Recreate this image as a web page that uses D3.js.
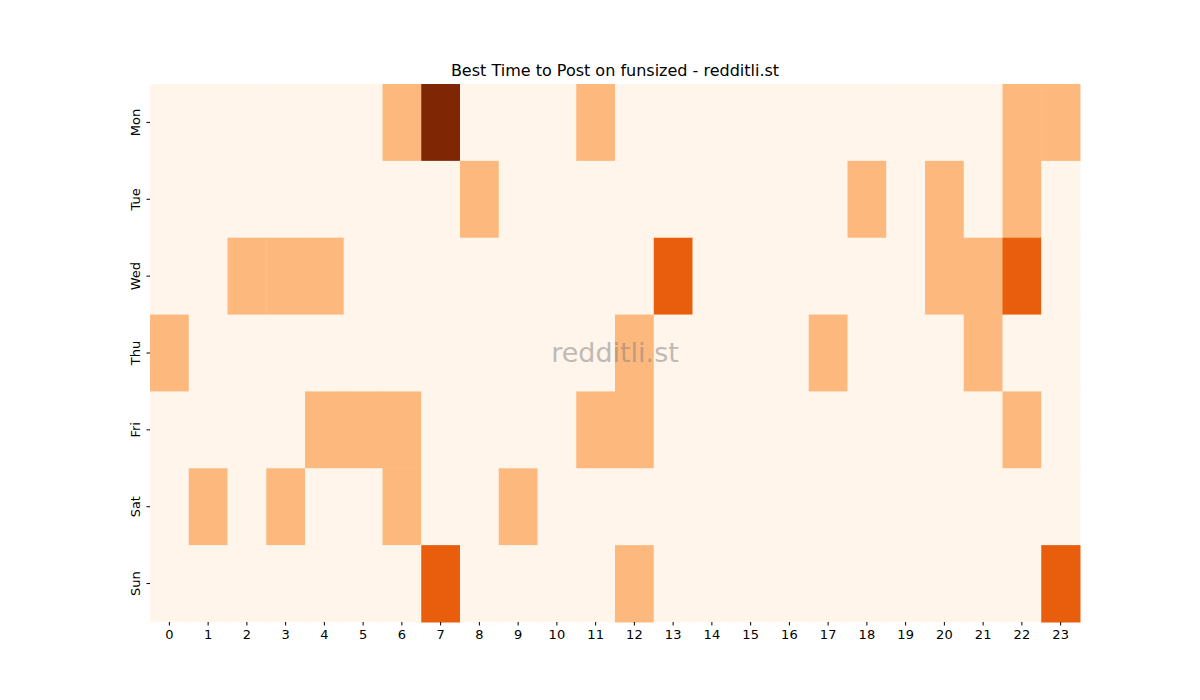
<!DOCTYPE html>
<html><head><meta charset="utf-8">
<script src="https://cdn.jsdelivr.net/npm/d3@7"></script>
<style>body{margin:0;background:#fff}svg{font-family:"DejaVu Sans",sans-serif}</style>
</head><body><svg id="c" width="1200" height="700"></svg>
<script>
const days = ["Mon","Tue","Wed","Thu","Fri","Sat","Sun"];
const hours = d3.range(24).map(String);
const mon = [0,0,0,0,0,0,1,3,0,0,0,1,0,0,0,0,0,0,0,0,0,0,1,1];
const tue = [0,0,0,0,0,0,0,0,1,0,0,0,0,0,0,0,0,0,1,0,1,0,1,0];
const wed = [0,0,1,1,1,0,0,0,0,0,0,0,0,2,0,0,0,0,0,0,1,1,2,0];
const thu = [1,0,0,0,0,0,0,0,0,0,0,0,1,0,0,0,0,1,0,0,0,1,0,0];
const fri = [0,0,0,0,1,1,1,0,0,0,0,1,1,0,0,0,0,0,0,0,0,0,1,0];
const sat = [0,1,0,1,0,0,1,0,0,1,0,0,0,0,0,0,0,0,0,0,0,0,0,0];
const sun = [0,0,0,0,0,0,0,2,0,0,0,0,1,0,0,0,0,0,0,0,0,0,0,2];
const rows = [mon,tue,wed,thu,fri,sat,sun];
const levelColors = ["#fff5eb","#fdb97d","#e95e0d","#7f2704"];

const svg = d3.select("#c");
const L=150,R=1080,T=84,B=622;
const x = d3.scaleBand().domain(hours).range([L,R]);
const y = d3.scaleBand().domain(days).range([T,B]);
const color = d3.scaleOrdinal().domain([0,1,2,3]).range(levelColors);
const cells = [];
rows.forEach((r,i)=>r.forEach((v,j)=>cells.push({d:days[i],h:hours[j],v})));
svg.append("g").selectAll("rect").data(cells).join("rect")
  .attr("x",d=>x(d.h)).attr("y",d=>y(d.d))
  .attr("width",x.bandwidth()+0.5).attr("height",y.bandwidth()+0.5)
  .attr("fill",d=>color(d.v));
const ax = svg.append("g").attr("transform",`translate(0,${B})`).call(d3.axisBottom(x).tickSizeOuter(0).tickSize(3.5).tickPadding(4));
const ay = svg.append("g").attr("transform",`translate(${L},0)`).call(d3.axisLeft(y).tickSizeOuter(0).tickSize(3.5).tickPadding(4));
[ax,ay].forEach(a=>{a.select(".domain").remove();a.selectAll("text").attr("font-size",13).attr("fill","#000").attr("font-family","DejaVu Sans");});
ay.selectAll(".tick text").attr("transform","rotate(-90)").attr("text-anchor","middle").attr("x",0).attr("y",-10).attr("dy","0");
svg.append("text").attr("x",615).attr("y",76).attr("text-anchor","middle").attr("font-size",16).text("Best Time to Post on funsized - redditli.st");
svg.append("text").attr("x",615).attr("y",362).attr("text-anchor","middle").attr("font-size",27).attr("fill","#808080").attr("opacity",0.5).text("redditli.st");
</script></body></html>
